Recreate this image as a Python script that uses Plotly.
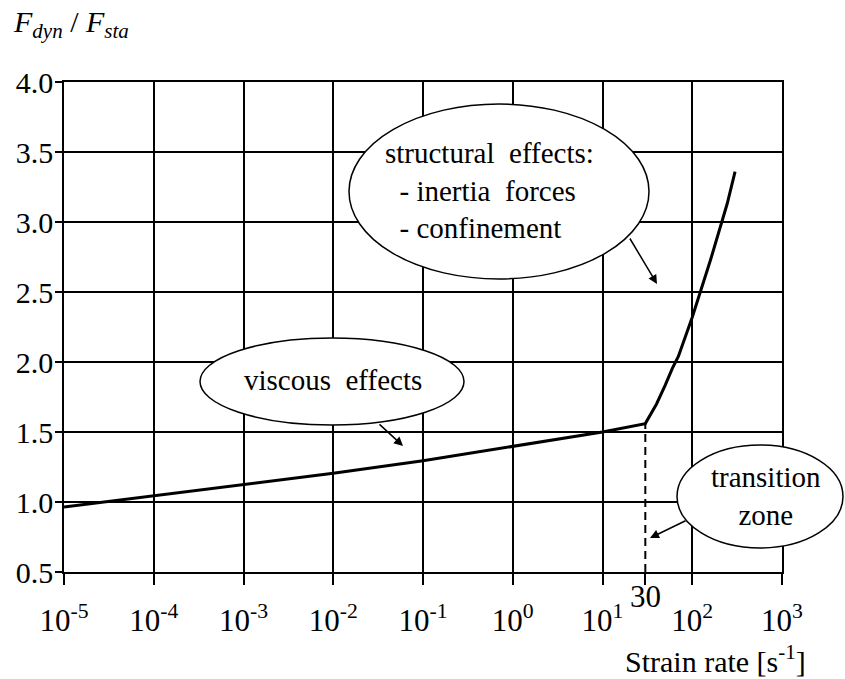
import math
import plotly.graph_objects as go

# Dynamic increase factor versus strain rate
strain_rate = [1e-5, 1e-4, 1e-3, 1e-2, 1e-1, 1, 10, 30, 40, 50, 60, 70, 85, 100, 160, 245, 300]
dif = [0.965, 1.045, 1.125, 1.205, 1.295, 1.395, 1.50, 1.56, 1.70, 1.835, 1.955, 2.04, 2.20,
       2.32, 2.73, 3.13, 3.36]

transition_rate = 30
transition_dif = 1.56

x_tickvals = [1e-5, 1e-4, 1e-3, 1e-2, 1e-1, 1, 10, 100, 1000]
x_ticktext = ["10<sup>-5</sup>", "10<sup>-4</sup>", "10<sup>-3</sup>", "10<sup>-2</sup>",
              "10<sup>-1</sup>", "10<sup>0</sup>", "10<sup>1</sup>", "10<sup>2</sup>",
              "10<sup>3</sup>"]
y_tickvals = [0.5, 1.0, 1.5, 2.0, 2.5, 3.0, 3.5, 4.0]
y_ticktext = ["0.5", "1.0", "1.5", "2.0", "2.5", "3.0", "3.5", "4.0"]

W, H = 845, 679
ML, MR, MT, MB = 64, 63, 82, 107
PW, PH = W - ML - MR, H - MT - MB
FONT = "Times New Roman, Liberation Serif, serif"


def px(xp):
    return (xp - ML) / PW


def py(yp):
    return (H - MB - yp) / PH


fig = go.Figure()

fig.add_trace(go.Scatter(
    x=strain_rate, y=dif, mode="lines",
    line=dict(color="black", width=3), hoverinfo="skip"))

fig.add_trace(go.Scatter(
    x=[transition_rate, transition_rate], y=[0.5, transition_dif], mode="lines",
    line=dict(color="black", width=2, dash="8px,5px"), hoverinfo="skip"))

# callout bubbles
bubbles = [
    (349, 104, 649, 279),
    (200, 338, 464, 425),
    (677, 445, 843, 548),
]
for x0, y0, x1, y1 in bubbles:
    fig.add_shape(type="circle", xref="paper", yref="paper",
                  x0=px(x0), x1=px(x1), y0=py(y1), y1=py(y0),
                  fillcolor="white", line=dict(color="black", width=1.5),
                  layer="above")

# arrows from bubbles
arrows = [
    ((629, 237), (657, 284)),
    ((378, 423), (403, 446)),
    ((687, 520), (650, 538)),
]
for (tx, ty), (hx, hy) in arrows:
    fig.add_annotation(xref="paper", yref="paper", x=px(hx), y=py(hy),
                       ax=tx - hx, ay=ty - hy, text="", showarrow=True,
                       arrowhead=2, arrowsize=1.2, arrowwidth=1.5,
                       arrowcolor="black")

tf = dict(family=FONT, size=29, color="black")
fig.add_annotation(xref="paper", yref="paper", x=px(383), y=py(190),
                   xanchor="left", yanchor="middle", align="left", showarrow=False,
                   text="structural\u00a0 effects:<br>\u00a0 - inertia\u00a0 forces<br>\u00a0 - confinement",
                   font=tf)
fig.add_annotation(xref="paper", yref="paper", x=px(333), y=py(380),
                   xanchor="center", yanchor="middle", showarrow=False,
                   text="viscous\u00a0 effects", font=tf)
fig.add_annotation(xref="paper", yref="paper", x=px(766), y=py(496),
                   xanchor="center", yanchor="middle", showarrow=False,
                   text="transition<br>zone", font=tf)

# transition rate label
fig.add_annotation(xref="x", yref="paper", x=math.log10(transition_rate), y=py(596),
                   xanchor="center", yanchor="middle", showarrow=False,
                   text=str(transition_rate), font=dict(family=FONT, size=31, color="black"))

# axis titles
fig.add_annotation(xref="paper", yref="paper", x=px(11), y=py(24),
                   xanchor="left", yanchor="middle", showarrow=False,
                   text="<i>F<sub>dyn</sub></i> / <i>F<sub>sta</sub></i>",
                   font=dict(family=FONT, size=30, color="black"))
fig.add_annotation(xref="paper", yref="paper", x=px(808), y=py(659),
                   xanchor="right", yanchor="middle", showarrow=False,
                   text="Strain rate [s<sup>-1</sup>]",
                   font=dict(family=FONT, size=30, color="black"))

fig.update_xaxes(
    type="log", range=[-5, 3], tickvals=x_tickvals, ticktext=x_ticktext,
    ticks="outside", ticklen=11, tickwidth=1.5, tickcolor="black",
    tickfont=dict(family=FONT, size=31, color="black"), ticklabelstandoff=9,
    showgrid=True, gridcolor="black", gridwidth=1.5,
    showline=True, linecolor="black", linewidth=1.5, mirror=True, zeroline=False,
    minor=dict(tickvals=[transition_rate], ticks="outside", ticklen=11,
               tickwidth=1.5, tickcolor="black", showgrid=False),
)
fig.update_yaxes(
    range=[0.5, 4.0], tickvals=y_tickvals, ticktext=y_ticktext,
    ticks="outside", ticklen=7, tickwidth=1.5, tickcolor="black",
    tickfont=dict(family=FONT, size=30, color="black"), ticklabelstandoff=-4,
    showgrid=True, gridcolor="black", gridwidth=1.5,
    showline=True, linecolor="black", linewidth=1.5, mirror=True, zeroline=False,
)

fig.update_layout(
    width=W, height=H, margin=dict(l=ML, r=MR, t=MT, b=MB),
    plot_bgcolor="white", paper_bgcolor="white", showlegend=False,
)

fig.write_html("out.html")
